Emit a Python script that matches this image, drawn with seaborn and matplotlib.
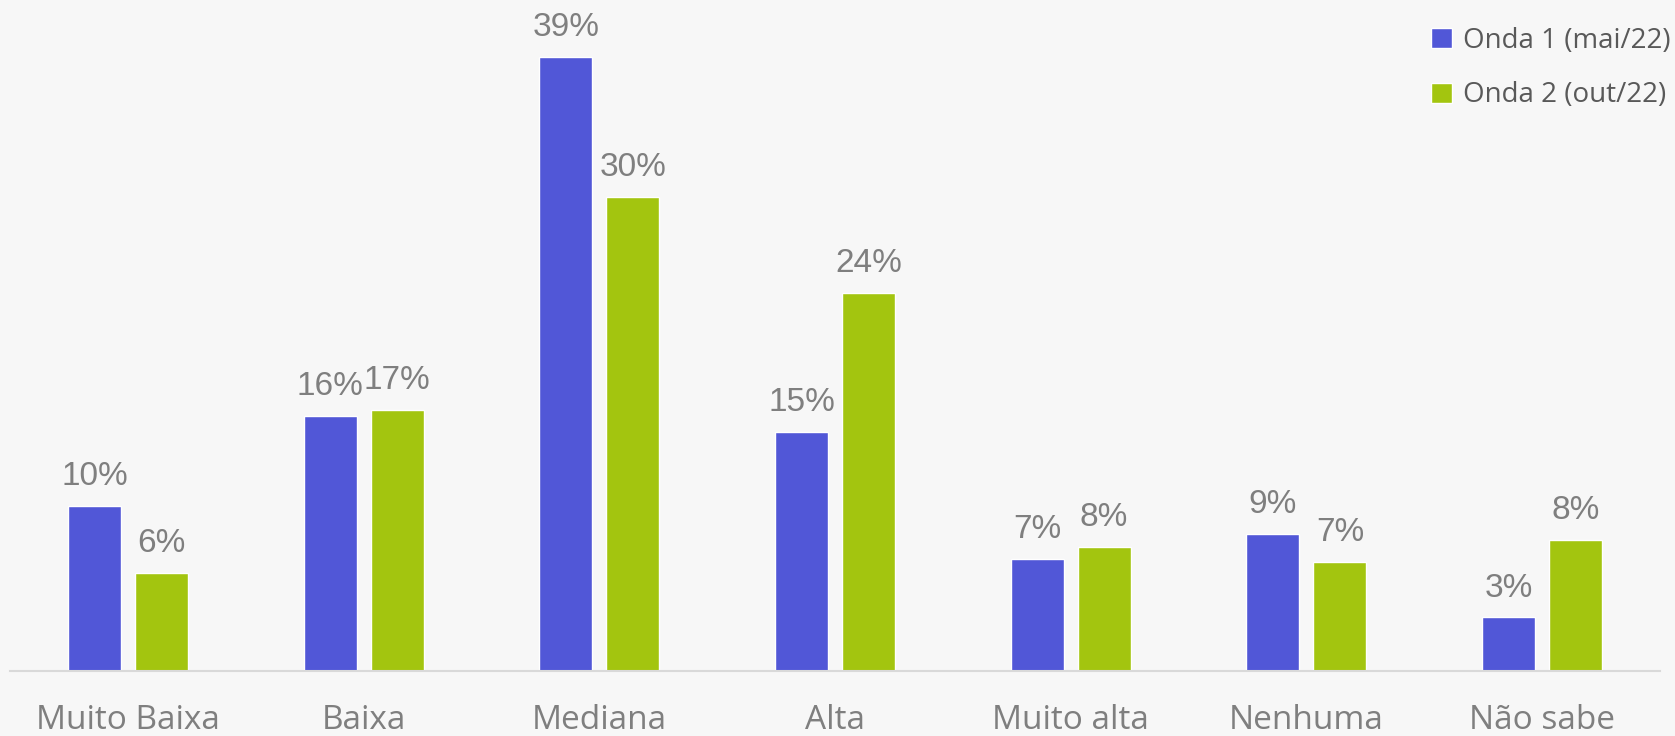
import pandas as pd
import seaborn as sns
import matplotlib.pyplot as plt
from matplotlib.patches import Patch

categories = ['Muito Baixa', 'Baixa', 'Mediana', 'Alta', 'Muito alta', 'Nenhuma', 'Não sabe']
onda1 = [10.5, 16.2, 39.0, 15.2, 7.1, 8.7, 3.4]
onda2 = [6.2, 16.6, 30.1, 24.0, 7.9, 6.9, 8.3]
series = ['Onda 1 (mai/22)', 'Onda 2 (out/22)']
colors = ['#5157D7', '#A3C50F']

df = pd.DataFrame({
    'categoria': categories * 2,
    'valor': onda1 + onda2,
    'onda': [series[0]] * len(categories) + [series[1]] * len(categories),
})

sns.set_theme(style='white')
plt.rcParams['font.family'] = ['Open Sans', 'DejaVu Sans']

bg = '#F7F7F7'
fig = plt.figure(figsize=(16.75, 7.36), dpi=100, facecolor=bg)
ax = fig.add_axes([10 / 1675, 65 / 736, 1650 / 1675, 671 / 736])
ax.set_facecolor(bg)

sns.barplot(data=df, x='categoria', y='valor', hue='onda', order=categories,
            hue_order=series, palette=colors, width=0.568, gap=0.208,
            saturation=1, legend=False, ax=ax)

# value labels above each bar
for cont in ax.containers:
    for bar in cont:
        h = bar.get_height()
        ax.annotate(f'{round(h):.0f}%', (bar.get_x() + bar.get_width() / 2, h),
                    xytext=(0, 10), textcoords='offset points', ha='center', va='bottom',
                    fontsize=24, color='#7F7F7F', family=['Liberation Sans', 'DejaVu Sans'])

ax.set_xlim(-0.5, len(categories) - 0.5)
ax.set_ylim(0, 42.6)
ax.set_xlabel('')
ax.set_ylabel('')
ax.set_yticks([])
ax.tick_params(axis='x', length=0, pad=24, labelsize=24, labelcolor='#7F7F7F')
for side in ['top', 'right', 'left']:
    ax.spines[side].set_visible(False)
ax.spines['bottom'].set_color('#D9D9D9')
ax.spines['bottom'].set_linewidth(1.5)

handles = [Patch(facecolor=c) for c in colors]
fig.legend(handles, series, loc='upper right', bbox_to_anchor=(1671 / 1675, 1 - 27 / 736),
           frameon=False, fontsize=20, labelcolor='#595959', handlelength=0.75,
           handleheight=0.75, handletextpad=0.4, labelspacing=0.95,
           borderpad=0, borderaxespad=0)

fig.savefig('out.png', dpi=100, facecolor=bg)
